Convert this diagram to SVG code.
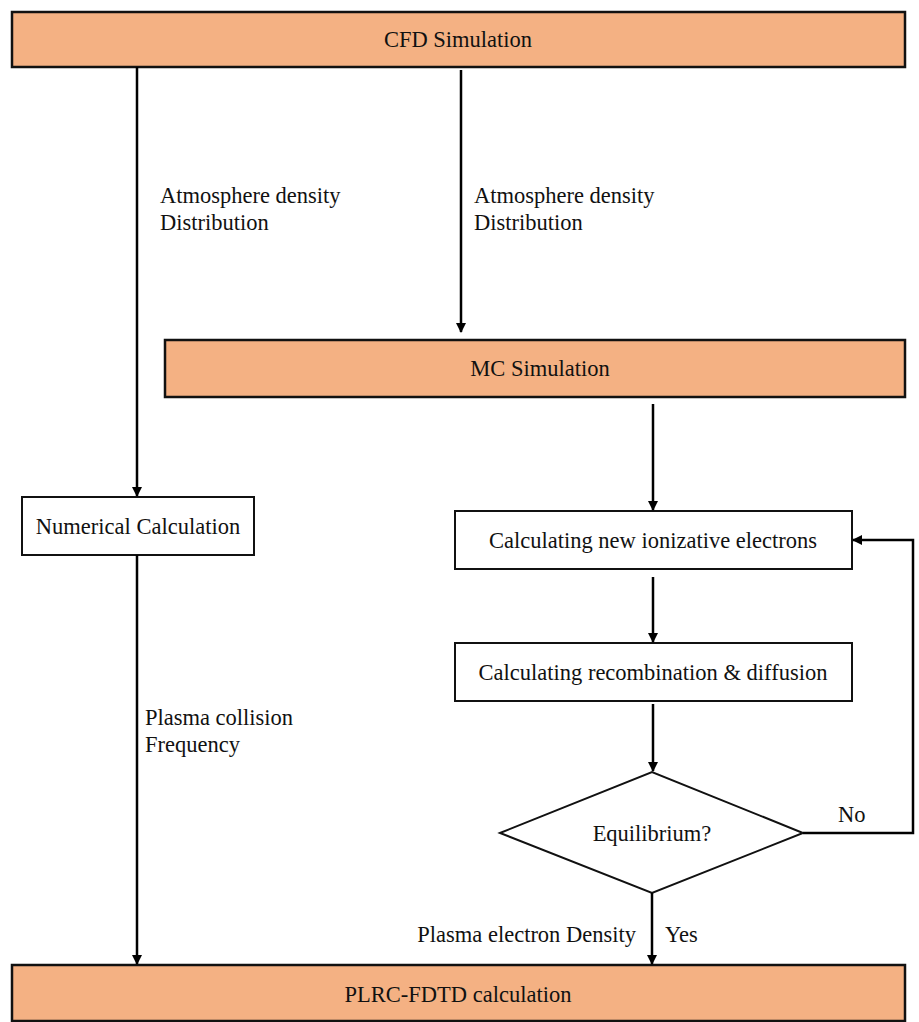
<svg xmlns="http://www.w3.org/2000/svg" width="919" height="1022" viewBox="0 0 919 1022">
<defs>
<marker id="ah" markerWidth="10" markerHeight="10" refX="9" refY="5" orient="auto" markerUnits="userSpaceOnUse">
<path d="M0,0 L10,5 L0,10 Z" fill="#000"/>
</marker>
<style>
.t{font-family:"Liberation Serif","Times New Roman",serif;font-size:22.5px;fill:#111;}
.c{text-anchor:middle;}
.o{fill:#F4B183;stroke:#111;stroke-width:2.5;}
.w{fill:#fff;stroke:#111;stroke-width:2;}
.e{fill:none;stroke:#000;stroke-width:2.5;marker-end:url(#ah);}
</style>
</defs>
<rect width="919" height="1022" fill="#fff"/>
<g id="cfd"><rect class="o" x="12" y="12" width="893" height="55"/><text class="t c" x="458" y="47">CFD Simulation</text></g>
<g id="mc"><rect class="o" x="165" y="340" width="740" height="57"/><text class="t c" x="540" y="376">MC Simulation</text></g>
<g id="numerical"><rect class="w" x="22" y="497" width="232" height="58"/><text class="t c" x="138" y="534">Numerical Calculation</text></g>
<g id="ionize"><rect class="w" x="455" y="511" width="397" height="58"/><text class="t c" x="653" y="548">Calculating new ionizative electrons</text></g>
<g id="recomb"><rect class="w" x="455" y="643" width="397" height="58"/><text class="t c" x="653" y="680">Calculating recombination &amp; diffusion</text></g>
<g id="equilibrium"><polygon class="w" points="500,833 652,772 803,833 652,893" stroke-width="1.5"/><text class="t c" x="652" y="841">Equilibrium?</text></g>
<g id="plrc"><rect class="o" x="12" y="965" width="893" height="56"/><text class="t c" x="458" y="1002">PLRC-FDTD calculation</text></g>
<g id="connectors">
<path class="e" d="M137,67 V496"/>
<path class="e" d="M461,70 V332"/>
<path class="e" d="M653,404 V510"/>
<path class="e" d="M653,577 V642"/>
<path class="e" d="M653,704 V771"/>
<path class="e" d="M137,555 V964"/>
<path class="e" d="M652,893 V964"/>
<path class="e" d="M803,833 H913 V540 H853"/>
</g>
<g id="labels">
<text class="t" x="160" y="203">Atmosphere density</text>
<text class="t" x="160" y="230">Distribution</text>
<text class="t" x="474" y="203">Atmosphere density</text>
<text class="t" x="474" y="230">Distribution</text>
<text class="t" x="145" y="725">Plasma collision</text>
<text class="t" x="145" y="752">Frequency</text>
<text class="t" x="636" y="942" text-anchor="end">Plasma electron Density</text>
<text class="t" x="665" y="942">Yes</text>
<text class="t" x="838" y="822">No</text>
</g>
</svg>
